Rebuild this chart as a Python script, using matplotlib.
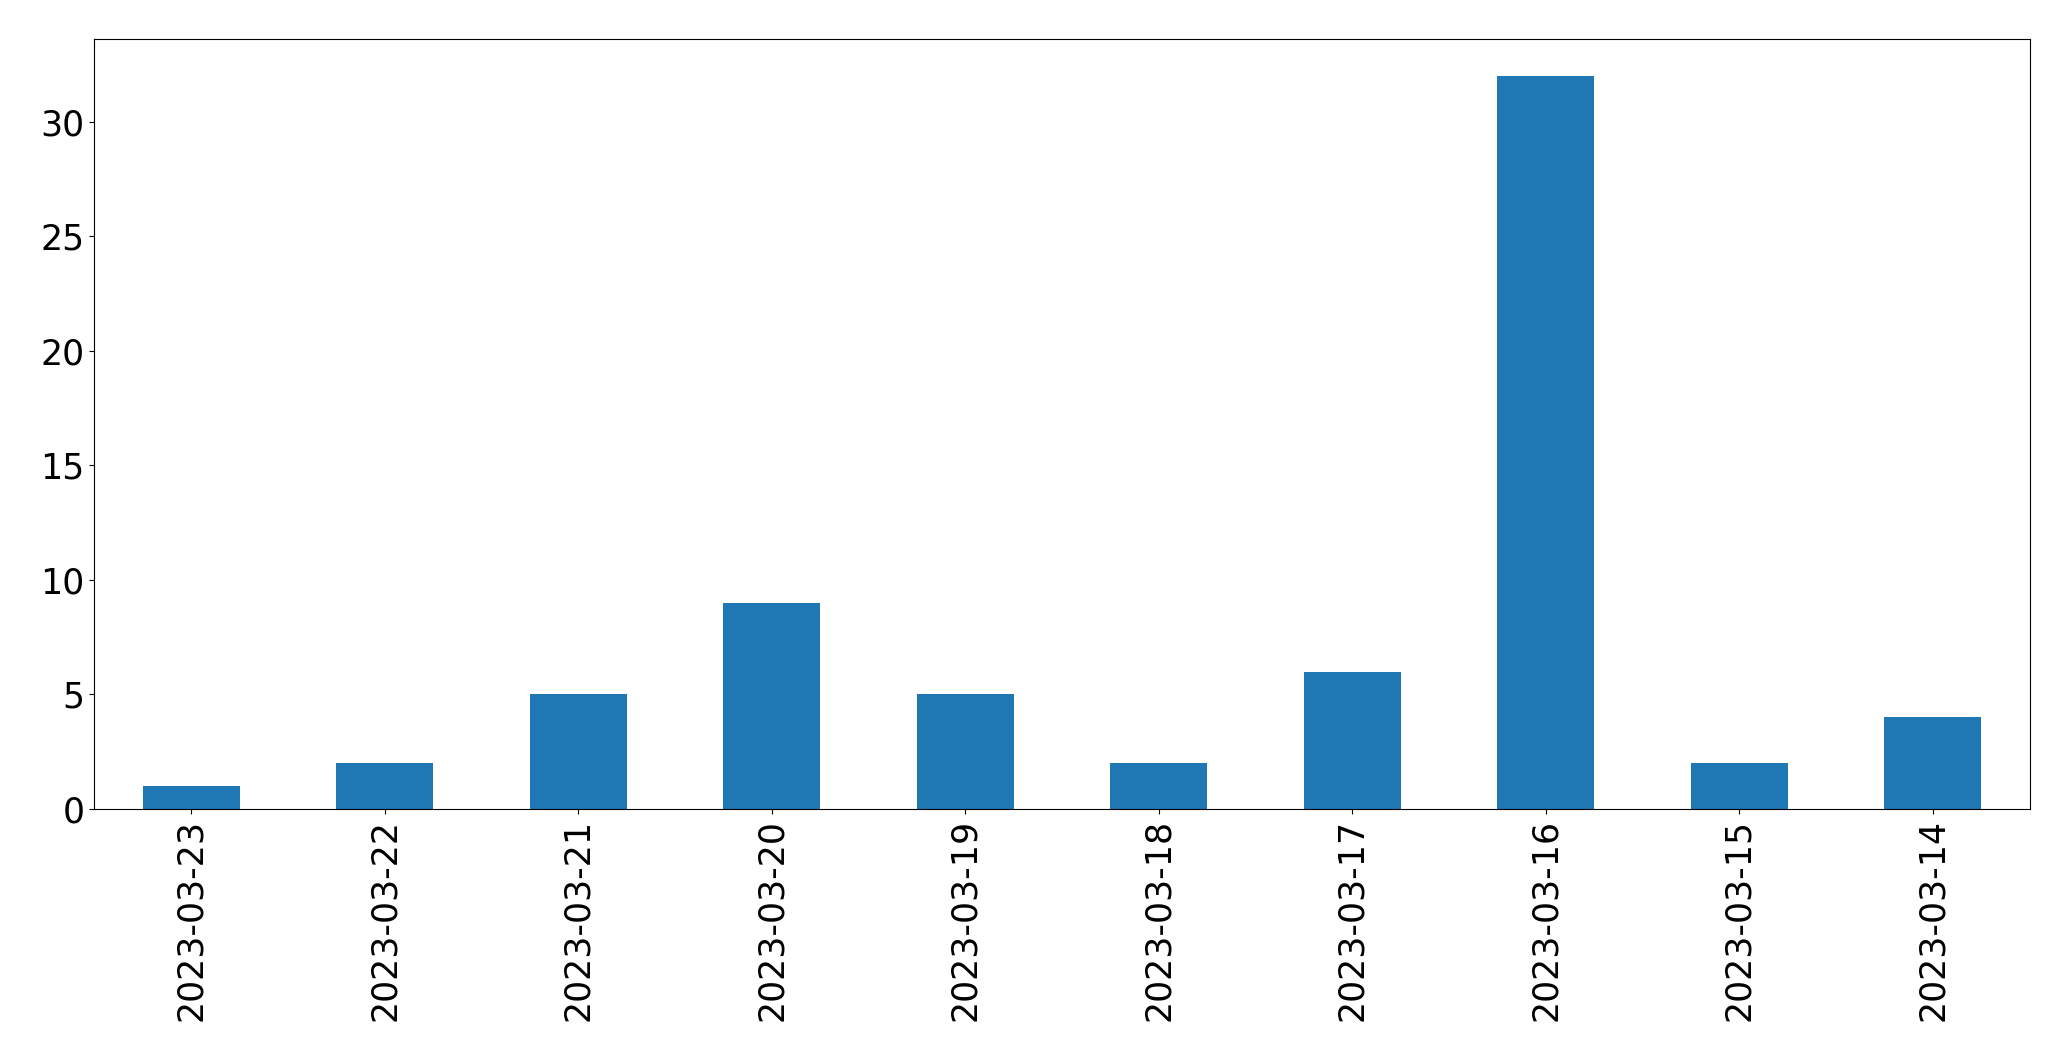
import pandas as pd
from matplotlib import pyplot as plt

dates = ['2023-03-23', '2023-03-22', '2023-03-21', '2023-03-20', '2023-03-19',
         '2023-03-18', '2023-03-17', '2023-03-16', '2023-03-15', '2023-03-14']
counts = [1, 2, 5, 9, 5, 2, 6, 32, 2, 4]

s = pd.Series(counts, index=dates)

fig = plt.figure(figsize=(20.71, 10.61), dpi=100)
ax = fig.add_subplot(111)
s.plot.bar(ax=ax, color='#1f77b4', fontsize=25)
fig.subplots_adjust(left=0.0456, right=0.980, top=0.9632, bottom=0.2375)

fig.savefig('out.png', dpi=100)
